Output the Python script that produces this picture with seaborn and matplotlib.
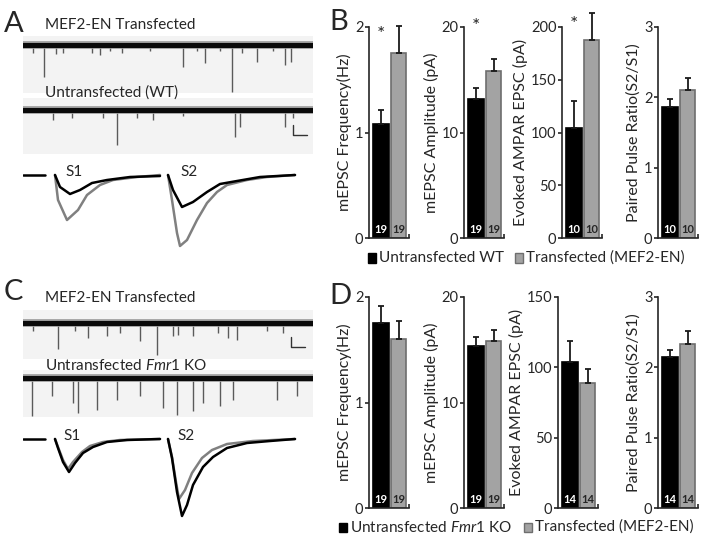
import numpy as np
import matplotlib
matplotlib.use('Agg')
import matplotlib.pyplot as plt
from matplotlib.patches import Rectangle
import seaborn as sns

sns.set_style('ticks')
plt.rcParams['font.family'] = ['Lato', 'DejaVu Sans']
plt.rcParams['mathtext.fontset'] = 'custom'
plt.rcParams['mathtext.rm'] = 'Lato'
plt.rcParams['mathtext.it'] = 'Lato:italic'

W, H = 722, 545

# ---------------- data ----------------
groups = ['Untransfected', 'Transfected']
ylabels = ['mEPSC Frequency(Hz)', 'mEPSC Amplitude (pA)',
           'Evoked AMPAR EPSC (pA)', 'Paired Pulse Ratio(S2/S1)']

# panel B (WT background)
b_means = [[1.08, 1.75], [13.2, 15.8], [104, 188], [1.86, 2.10]]
b_sems = [[0.13, 0.26], [1.0, 1.2], [26, 25], [0.11, 0.18]]
b_n = [[19, 19], [19, 19], [10, 10], [10, 10]]
b_ymax = [2, 20, 200, 3]
b_ticks = [[0, 1, 2], [0, 10, 20], [0, 50, 100, 150, 200], [0, 1, 2, 3]]
b_star = [1.93, 20, 202, None]

# panel D (Fmr1 KO background)
d_means = [[1.75, 1.60], [15.4, 15.8], [103.6, 89], [2.15, 2.33]]
d_sems = [[0.16, 0.17], [0.8, 1.1], [15, 10], [0.10, 0.19]]
d_n = [[19, 19], [19, 19], [14, 14], [14, 14]]
d_ymax = [2, 20, 150, 3]
d_ticks = [[0, 1, 2], [0, 10, 20], [0, 50, 100, 150], [0, 1, 2, 3]]

# mEPSC events: time (s), amplitude (pA)
a_top_t = [0.36, 0.74, 1.14, 1.39, 2.37, 2.66, 3.0, 3.4, 4.38, 5.53, 5.99, 6.28,
           6.79, 7.2, 7.54, 8.06, 8.63, 9.03, 9.23]
a_top_amp = [8, 32, 9, 8, 8, 10, 6, 8, 6, 22, 6, 18, 6, 47, 8, 17, 6, 20, 17]
a_bot_t = [1.05, 1.68, 2.76, 3.25, 3.92, 4.49, 5.52, 7.31, 7.48, 9.03, 9.3]
a_bot_amp = [10, 8, 8, 35, 8, 10, 6, 27, 17, 17, 8]
c_top_t = [0.36, 1.2, 1.79, 2.25, 2.89, 3.34, 4.03, 4.61, 5.18, 5.36, 5.87, 6.73,
           7.08, 7.39, 8.4, 8.98]
c_top_amp = [8, 26, 8, 15, 13, 10, 18, 32, 13, 12, 13, 10, 15, 17, 8, 10]
c_bot_t = [0.3, 0.99, 1.74, 1.91, 2.54, 3.23, 4.03, 4.84, 5.3, 5.87, 6.22, 6.79,
           7.25, 8.75, 9.44]
c_bot_amp = [38, 18, 25, 35, 32, 22, 18, 30, 37, 33, 25, 28, 22, 22, 18]

# evoked EPSC traces: time (ms), current (pA)
pre_t = [0, 22]
pre_v = [0, 0]
a_s1_wt_t = [32, 37, 47, 57, 69, 84, 107, 137]
a_s1_wt_v = [0, -12, -19, -15, -8, -5, -2, -1]
a_s1_tr_t = [32, 35, 44, 55, 64, 77, 90, 114, 137]
a_s1_tr_v = [0, -25, -45, -35, -20, -10, -5, -2, 0]
a_s2_wt_t = [145, 150, 159, 170, 184, 197, 214, 237, 272]
a_s2_wt_v = [0, -15, -32, -27, -17, -9, -6, -2, 0]
a_s2_tr_t = [145, 149, 154, 157, 164, 174, 184, 194, 204, 224, 244, 272]
a_s2_tr_v = [0, -25, -58, -71, -65, -45, -28, -17, -10, -5, -2, 0]

c_s1_ko_t = [32, 35, 40, 46, 52, 60, 70, 84, 104, 137]
c_s1_ko_v = [0, -9, -23, -33, -24, -14, -8, -3, -1, 0]
c_s1_tr_t = [32, 35, 40, 45, 50, 59, 67, 80, 97, 137]
c_s1_tr_v = [0, -8, -21, -30, -23, -13, -7, -3, -1, 0]
c_s2_ko_t = [145, 149, 154, 159, 164, 170, 180, 190, 204, 224, 247, 272]
c_s2_ko_v = [0, -19, -53, -77, -66, -46, -28, -18, -9, -4, -2, 0]
c_s2_tr_t = [145, 149, 153, 156, 162, 169, 179, 189, 204, 230, 272]
c_s2_tr_v = [0, -18, -43, -60, -51, -34, -19, -11, -5, -2, 0]

BLACK = '#000000'
GRAY = '#a3a3a3'
GRAY_EDGE = '#6e6e6e'
TRACE_GRAY = '#808080'
BG = '#f3f3f3'


def box(x0, y0, x1, y1):
    return [x0 / W, 1 - y1 / H, (x1 - x0) / W, (y1 - y0) / H]


fig = plt.figure(figsize=(7.22, 5.45), dpi=100)


def mepsc_axes(rect, ylim, t, amp, scalebar=None):
    ax = fig.add_axes(box(*rect))
    ax.set_xlim(0, 10)
    ax.set_ylim(*ylim)
    ax.axis('off')
    ax.add_patch(Rectangle((0, ylim[0]), 10, ylim[1] - ylim[0], color=BG, zorder=0))
    ax.vlines(t, [-a for a in amp], 0, color='#5a5a5a', lw=1)
    sns.lineplot(x=[0, 10], y=[0, 0], color='#9a9a9a', lw=5.5, ax=ax)
    sns.lineplot(x=[0, 10], y=[0, 0], color='#0a0a0a', lw=3.6, ax=ax)
    if scalebar:
        sx, sy = scalebar
        ax.plot([sx, sx, sx + 0.5], [sy + 10, sy, sy], color='#333333', lw=1)
    return ax


def epsc_axes(rect, ylim, traces):
    ax = fig.add_axes(box(*rect))
    ax.set_xlim(0, 290)
    ax.set_ylim(*ylim)
    ax.axis('off')
    sns.lineplot(x=pre_t, y=pre_v, color='black', lw=1.8, ax=ax)
    for tt, vv, col in traces:
        ax.plot(tt, vv, color=col, lw=1.8, solid_joinstyle='round')
    return ax


# ---------- panel A ----------
fig.text(4 / W, 1 - 24 / H, 'A', fontsize=21, va='center')
fig.text(45 / W, 1 - 25 / H, 'MEF2-EN Transfected', fontsize=11, va='center')
mepsc_axes((23, 36, 313, 93), (-48, 9), a_top_t, a_top_amp)
mepsc_axes((23, 98, 313, 154), (-44, 12), a_bot_t, a_bot_amp, scalebar=(9.31, -25))
fig.text(45 / W, 1 - 93 / H, 'Untransfected (WT)', fontsize=11, va='center')
ax = epsc_axes((23, 165, 313, 255), (-80, 10),
               [(a_s1_tr_t, a_s1_tr_v, TRACE_GRAY), (a_s1_wt_t, a_s1_wt_v, 'black'),
                (a_s2_tr_t, a_s2_tr_v, TRACE_GRAY), (a_s2_wt_t, a_s2_wt_v, 'black')])
ax.text(42, 3, 'S1', fontsize=11, va='center')
ax.text(157, 3, 'S2', fontsize=11, va='center')

# ---------- panel C ----------
fig.text(4 / W, 1 - 292 / H, 'C', fontsize=21, va='center')
fig.text(45 / W, 1 - 298 / H, 'MEF2-EN Transfected', fontsize=11, va='center')
mepsc_axes((23, 310, 313, 359), (-36, 13), c_top_t, c_top_amp, scalebar=(9.24, -24))
mepsc_axes((23, 370, 313, 417), (-39, 8), c_bot_t, c_bot_amp)
fig.text(45 / W, 1 - 365 / H, 'Untransfected $\\mathit{Fmr1}$ KO', fontsize=11, va='center')
ax = epsc_axes((23, 428, 313, 528), (-89, 11),
               [(c_s1_tr_t, c_s1_tr_v, TRACE_GRAY), (c_s1_ko_t, c_s1_ko_v, 'black'),
                (c_s2_tr_t, c_s2_tr_v, TRACE_GRAY), (c_s2_ko_t, c_s2_ko_v, 'black')])
ax.text(40, 3, 'S1', fontsize=11, va='center')
ax.text(154, 3, 'S2', fontsize=11, va='center')


# ---------- bar panels ----------
def bar_panel(x_left, y_top, y_bot, means, sems, ns, ymax, ticks, star, ylabel):
    ax = fig.add_axes(box(x_left, y_top, x_left + 40, y_bot))
    sns.barplot(x=groups, y=means, hue=groups, palette=[BLACK, GRAY],
                width=0.91, legend=False, ax=ax, saturation=1)
    for p, ec in zip(ax.patches, [BLACK, GRAY_EDGE]):
        p.set_edgecolor(ec)
        p.set_linewidth(1.2)
    ax.errorbar([0, 1], means, yerr=[[0, 0], sems], fmt='none', ecolor='#1a1a1a',
                elinewidth=1.3, capsize=2.5, capthick=1.3, clip_on=False)
    ax.set_xlim(-0.69, 1.6)
    ax.set_ylim(0, ymax)
    ax.set_yticks(ticks)
    ax.set_yticklabels([str(v) for v in ticks], fontsize=10.5)
    ax.set_xticks([1.6])
    ax.set_xticklabels([''])
    ax.tick_params(axis='x', direction='in', length=3, width=1.2)
    ax.tick_params(axis='y', length=3, width=1.2, pad=1)
    ax.set_xlabel('')
    ax.set_ylabel(ylabel, fontsize=11.5, labelpad=2)
    sns.despine(ax=ax)
    ax.spines['left'].set_linewidth(1.2)
    ax.spines['bottom'].set_linewidth(1.2)
    for xi, (nv, col) in enumerate(zip(ns, ['white', '#262626'])):
        ax.annotate(str(nv), (xi, 0), xytext=(0, 2), textcoords='offset points',
                    ha='center', va='bottom', fontsize=8, fontweight='bold', color=col,
                    zorder=5)
    if star is not None:
        ax.text(0, star, '*', ha='center', va='center', fontsize=14)
    return ax


b_x = [369, 464, 562, 658]
d_x = [369, 464, 558, 658]
for i in range(4):
    bar_panel(b_x[i], 27, 238, b_means[i], b_sems[i], b_n[i], b_ymax[i], b_ticks[i],
              b_star[i], ylabels[i])
    bar_panel(d_x[i], 297, 508, d_means[i], d_sems[i], d_n[i], d_ymax[i], d_ticks[i],
              None, ylabels[i])

fig.text(329 / W, 1 - 22 / H, 'B', fontsize=21, va='center')
fig.text(329 / W, 1 - 296 / H, 'D', fontsize=21, va='center')


# legends
def legend_item(x, y, color, edge, label):
    fig.patches.append(Rectangle((x / W, 1 - (y + 4.5) / H), 8 / W, 9 / H, facecolor=color,
                                 edgecolor=edge, lw=1, transform=fig.transFigure, figure=fig))
    fig.text((x + 11) / W, 1 - y / H, label, fontsize=11, va='center')


legend_item(368, 258, BLACK, BLACK, 'Untransfected WT')
legend_item(515, 258, GRAY, GRAY_EDGE, 'Transfected (MEF2-EN)')
legend_item(339, 527, BLACK, BLACK, 'Untransfected $\\mathit{Fmr1}$ KO')
legend_item(524, 527, GRAY, GRAY_EDGE, 'Transfected (MEF2-EN)')

fig.savefig('out.png', dpi=100)
